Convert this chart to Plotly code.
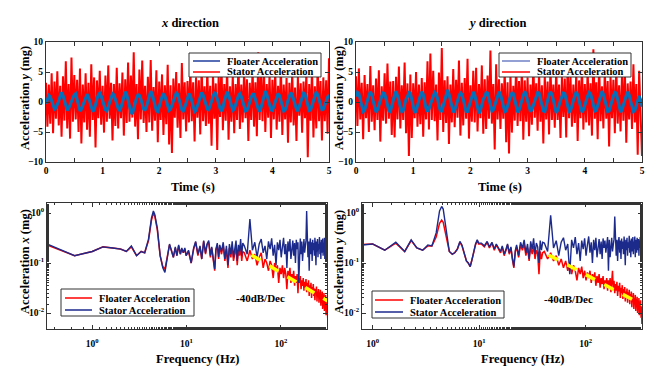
import numpy as np
import plotly.graph_objects as go

# ---------------- time-domain data (0 .. 5 s, 201 samples) ----------------
SAMPLE_DT = 0.025
N_SAMPLES = 201

stator_acc_x = [
    3.2, -4.1, 2.9, -3.6, 4.8, -5.2, 3.4, -2.8, 5.1, -3.9, 2.7, -5.8, 4.3, -3.1, 6.8, -4.4, 3.0, -6.1, 7.4, -3.3,
    4.5, -2.9, 3.7, -5.0, 5.6, -6.9, 2.9, -3.4, 4.8, -4.6, 3.2, -5.8, 6.3, -3.0, 4.1, -7.6, 3.6, -2.7, 5.2, -3.8,
    2.7, -5.1, 4.4, -3.3, 6.1, -2.8, 3.2, -6.4, 3.0, -4.0, 5.7, -4.4, 3.1, -2.7, 4.9, -5.6, 3.8, -3.5, 6.6, -3.3,
    4.4, -2.6, 8.3, -4.1, 3.0, -6.2, 5.4, -2.9, 6.9, -3.5, 2.7, -5.0, 4.2, -3.4, 7.0, -4.8, 2.5, -3.1, 5.3, -6.7,
    3.4, -3.0, 4.6, -5.5, 2.8, -3.7, 6.2, -7.1, 2.8, -8.5, 3.9, -2.6, 5.0, -4.3, 3.1, -6.0, 6.5, -2.9, 3.3, -4.9,
    3.5, -3.4, 5.8, -3.2, 3.3, -6.6, 4.1, -2.6, 3.6, -5.4, 6.0, -3.2, 2.6, -4.0, 5.5, -3.6, 2.7, -7.3, 4.7, -2.8,
    3.1, -8.0, 4.3, -2.5, 6.4, -4.7, 3.0, -3.1, 5.9, -6.3, 2.6, -3.3, 4.5, -5.2, 3.0, -3.0, 6.7, -4.5, 2.9, -3.4,
    5.1, -2.7, 3.8, -6.5, 3.2, -3.0, 5.6, -4.1, 3.3, -5.7, 8.3, -3.0, 4.4, -3.2, 6.0, -5.0, 3.0, -2.6, 4.8, -6.0,
    3.7, -2.9, 5.3, -4.6, 2.7, -3.3, 6.2, -5.5, 2.9, -2.9, 4.0, -6.8, 3.2, -3.4, 5.0, -3.9, 2.4, -6.5, 4.2, -2.3,
    3.1, -5.1, 3.4, -2.7, 4.9, -9.2, 3.0, -3.1, 5.6, -5.9, 2.6, -4.4, 6.1, -3.2, 3.5, -6.4, 4.1, -3.2, 3.6, -5.3,
    7.3,
]

floater_acc_x = [
    -0.3, 0.6, 1.1, 0.9, 0.2, -0.6, -1.2, -1.0, -0.5,
    0.2, 1.0, 1.6, 1.1, 0.3, -0.5, -1.4, -1.1, -0.4,
    0.1, 0.7, 1.2, 1.4, 0.4, -0.7, -1.5, -1.2, -0.6,
    0.3, 0.9, 1.3, 0.8, 0.0, -0.8, -1.6, -1.3, -0.2,
    0.5, 1.2, 1.5, 1.0, 0.1, -0.6, -1.3, -1.5, -0.7,
    0.0, 0.8, 1.4, 1.2, 0.6, -0.3, -1.1, -1.4, -0.9,
    -0.1, 0.9, 1.7, 1.3, 0.4, -0.5, -1.7, -2.0, -1.0,
    0.2, 0.7, 1.2, 1.1, 0.5, -0.4, -1.2, -1.3, -0.8,
    0.1, 1.1, 1.8, 1.4, 0.3, -0.6, -1.5, -1.6, -0.7,
    0.3, 0.9, 1.3, 1.0, 0.2, -0.7, -1.4, -1.2, -0.5,
    0.2, 1.0, 1.5, 1.3, 0.6, -0.4, -1.3, -1.5, -0.9,
    0.0, 0.8, 1.4, 1.1, 0.2, -0.6, -1.6, -1.4, -0.6,
    0.3, 1.2, 1.6, 1.2, 0.4, -0.5, -1.2, -1.3, -0.7,
    0.1, 0.9, 1.5, 1.4, 0.5, -0.3, -1.1, -1.5, -1.0,
    0.2, 1.0, 1.7, 1.2, 0.3, -0.6, -1.4, -1.2, -0.5,
    0.4, 1.1, 1.4, 0.9, 0.1, -0.7, -1.5, -1.4, -0.8,
    0.0, 0.8, 1.3, 1.3, 0.6, -0.4, -1.2, -1.6, -0.9,
    0.2, 1.2, 1.8, 1.3, 0.4, -0.5, -1.3, -1.4, -0.6,
    0.1, 0.9, 1.4, 1.1, 0.2, -0.6, -1.5, -1.3, -0.7,
    0.3, 1.0, 1.6, 1.2, 0.5, -0.4, -1.2, -1.5, -0.8,
    0.0, 0.9, 1.5, 1.3, 0.3, -0.5, -1.4, -1.3, -0.6,
    0.2, 1.1, 1.7, 1.2, 0.4, -0.6, -1.3, -1.2, -0.5,
    0.3, 0.8, 1.2,
]

stator_acc_y = [
    4.3, -4.0, 5.6, -2.9, 3.2, -6.2, 4.5, -2.7, 3.0, -5.0, 6.0, -3.3, 2.8, -4.7, 3.9, -3.0, 5.3, -6.6, 2.6, -3.1,
    4.8, -3.6, 6.4, -2.8, 3.4, -5.5, 3.5, -5.9, 4.2, -2.9, 5.9, -4.4, 2.8, -3.0, 6.6, -5.2, 3.1, -9.0, 4.6, -6.0,
    3.1, -2.7, 5.0, -4.1, 2.9, -3.7, 4.0, -5.8, 3.3, -2.9, 6.8, -4.6, 8.1, -3.0, 5.2, -3.2, 2.9, -6.4, 4.9, -3.0,
    9.0, -5.0, 3.6, -3.5, 4.3, -7.0, 2.9, -3.4, 5.5, -4.2, 3.7, -2.6, 6.9, -5.6, 3.2, -3.9, 4.0, -2.8, 7.2, -6.1,
    2.8, -3.3, 5.2, -3.4, 5.7, -4.9, 3.0, -2.7, 6.1, -5.3, 3.8, -4.5, 4.4, -2.8, 8.6, -3.6, 3.0, -7.9, 6.3, -2.9,
    3.8, -4.5, 3.1, -2.8, 5.4, -6.7, 3.3, -8.6, 4.7, -5.1, 2.7, -3.1, 6.5, -4.0, 3.5, -3.2, 5.8, -6.3, 3.6, -3.3,
    4.1, -5.7, 2.9, -3.8, 6.7, -2.6, 3.1, -4.8, 5.1, -3.3, 2.8, -6.9, 4.5, -2.9, 3.4, -5.4, 6.0, -3.0, 2.9, -4.3,
    5.6, -3.0, 2.9, -6.0, 4.2, -2.5, 3.9, -5.9, 6.4, -2.7, 4.4, -4.1, 2.9, -3.5, 5.0, -6.5, 3.6, -2.7, 6.2, -4.6,
    3.0, -3.4, 5.5, -3.9, 3.1, -5.6, 8.8, -2.8, 3.3, -6.2, 6.6, -3.2, 2.6, -4.4, 5.3, -2.8, 3.5, -7.4, 4.3, -2.7,
    3.7, -5.2, 6.1, -3.6, 2.8, -4.9, 4.6, -3.1, 5.7, -6.8, 3.1, -2.9, 3.4, -4.5, 6.3, -3.4, 3.0, -8.8, 5.2, -3.2,
    -9.0,
]

floater_acc_y = [
    0.9, 1.6, 1.4, 0.4, -0.8, -1.6, -1.4, -0.5, 0.3,
    1.1, 1.7, 1.3, 0.2, -1.0, -1.7, -1.3, -0.4, 0.4,
    1.0, 1.5, 1.4, 0.5, -0.7, -1.5, -1.6, -0.6, 0.2,
    1.2, 1.8, 1.2, 0.3, -0.9, -1.6, -1.4, -0.5, 0.5,
    0.9, 1.6, 1.5, 0.4, -0.8, -1.8, -1.5, -0.3, 0.3,
    1.1, 1.7, 1.3, 0.2, -1.1, -1.6, -1.2, -0.4, 0.4,
    1.0, 1.6, 1.4, 0.6, -0.7, -1.5, -1.5, -0.6, 0.2,
    1.3, 2.0, 1.4, 0.3, -0.9, -1.7, -1.4, -0.5, 0.4,
    1.0, 1.5, 1.3, 0.4, -0.8, -1.6, -1.6, -0.7, 0.3,
    1.1, 1.7, 1.2, 0.1, -1.0, -1.9, -1.4, -0.4, 0.5,
    0.9, 1.6, 1.5, 0.5, -0.7, -1.5, -1.3, -0.5, 0.3,
    1.2, 1.7, 1.3, 0.3, -0.9, -1.6, -1.5, -0.6, 0.2,
    1.0, 1.5, 1.4, 0.4, -0.8, -1.7, -1.4, -0.4, 0.4,
    1.1, 1.8, 1.2, 0.2, -1.0, -1.6, -1.3, -0.5, 0.3,
    1.0, 1.6, 1.5, 0.5, -0.7, -1.5, -1.6, -0.6, 0.4,
    1.2, 1.7, 1.3, 0.3, -0.9, -1.8, -1.4, -0.3, 0.3,
    0.9, 1.5, 1.4, 0.4, -0.8, -1.6, -1.5, -0.5, 0.2,
    1.1, 1.7, 1.2, 0.2, -1.0, -1.7, -1.3, -0.4, 0.5,
    1.0, 1.6, 1.4, 0.5, -0.7, -1.5, -1.4, -0.6, 0.3,
    1.2, 1.8, 1.3, 0.3, -0.9, -1.6, -1.5, -0.5, 0.4,
    1.0, 1.6, 1.5, 0.4, -0.8, -1.7, -1.3, -0.4, 0.3,
    1.1, 1.7, 1.2, 0.2, -1.0, -1.6, -1.4, -0.5, 0.4,
    1.0, 0.4, -0.8,
]

# ---------------- spectra ----------------
freq_hz = [
    0.33, 0.65, 1.0, 1.3, 1.65, 2.0, 2.3, 2.6, 2.95, 3.3, 3.6, 3.95, 4.25, 4.45, 4.6, 4.9, 5.25, 5.6, 5.9, 6.25,
    6.6, 6.9, 7.25, 7.6, 7.9, 8.25, 8.6, 8.9, 9.25, 9.6, 9.9,
    10.5, 11.2, 11.9, 12.5, 13.2, 13.9, 14.5, 15.2, 15.9, 16.5, 17.2, 17.9, 18.5, 19.2, 19.9, 20.5, 21.2, 21.9,
    22.5, 23.5, 24.5, 25.5, 26.5, 27.5, 28.5, 29.5, 30.5, 31.5, 32.5, 33.5, 34.5, 35.5, 36.5, 37.5, 38.5, 39.5,
    41, 44, 47, 50, 53, 56, 59, 62, 65, 68, 71, 74, 77, 80, 83, 86, 89, 92, 95, 98,
    101, 104, 107, 110, 113, 116, 119, 122, 125, 128, 131, 134, 137, 140, 143, 146, 149, 152, 155, 158,
    161, 164, 167, 170, 173, 176, 179, 182, 185, 188, 191, 194, 197, 200, 203, 206, 209, 212, 215, 218,
    221, 224, 227, 230, 233, 236, 239, 242, 245, 248, 251, 254, 257, 260, 263, 266, 269, 272, 275, 278,
    281, 284, 287, 290, 293, 296, 299, 302, 305, 308, 311, 314, 317, 320, 323, 326, 329, 332, 335, 338,
]

floater_spec_x = [
    0.23, 0.14, 0.17, 0.21, 0.20, 0.19, 0.17, 0.21, 0.14, 0.17, 0.16, 0.28, 0.72, 0.97, 0.88, 0.46, 0.14, 0.085, 0.075, 0.14,
    0.23, 0.18, 0.13, 0.20, 0.14, 0.22, 0.15, 0.19, 0.16, 0.19, 0.14,
    0.17, 0.10, 0.19, 0.26, 0.14, 0.21, 0.12, 0.27, 0.15, 0.23, 0.26, 0.13, 0.20, 0.10, 0.07, 0.18, 0.23, 0.12,
    0.21, 0.15, 0.23, 0.11, 0.19, 0.08, 0.20, 0.13, 0.22, 0.11, 0.17, 0.21, 0.09, 0.18, 0.14, 0.22, 0.11, 0.17,
    0.16, 0.11, 0.18, 0.12, 0.15, 0.09, 0.13, 0.16, 0.08, 0.12, 0.10, 0.07, 0.11, 0.09, 0.05, 0.10, 0.07, 0.09, 0.04, 0.08,
    0.06, 0.09, 0.05, 0.08, 0.06, 0.03, 0.07, 0.05, 0.08, 0.04, 0.06, 0.045, 0.07, 0.035, 0.055, 0.04, 0.06, 0.025, 0.05, 0.04,
    0.055, 0.03, 0.045, 0.035, 0.05, 0.028, 0.042, 0.033, 0.048, 0.026, 0.04, 0.03, 0.045, 0.022, 0.036, 0.028, 0.04, 0.02, 0.033, 0.026,
    0.038, 0.022, 0.031, 0.018, 0.03, 0.024, 0.034, 0.017, 0.027, 0.021, 0.03, 0.016, 0.026, 0.02, 0.029, 0.014, 0.024, 0.019, 0.027, 0.012,
    0.022, 0.017, 0.025, 0.011, 0.02, 0.015, 0.023, 0.009, 0.018, 0.013, 0.02, 0.008, 0.016, 0.012, 0.019, 0.01, 0.015, 0.011, 0.017, 0.009,
]

stator_spec_x = [
    0.24, 0.14, 0.17, 0.21, 0.20, 0.19, 0.17, 0.22, 0.14, 0.17, 0.16, 0.30, 0.80, 1.10, 0.95, 0.50, 0.14, 0.08, 0.065, 0.14,
    0.24, 0.18, 0.13, 0.21, 0.14, 0.23, 0.15, 0.20, 0.16, 0.20, 0.14,
    0.18, 0.10, 0.20, 0.27, 0.15, 0.22, 0.12, 0.28, 0.16, 0.24, 0.28, 0.14, 0.21, 0.11, 0.075, 0.19, 0.25, 0.13,
    0.23, 0.17, 0.26, 0.12, 0.22, 0.09, 0.24, 0.15, 0.27, 0.13, 0.20, 0.28, 0.11, 0.23, 0.17, 0.30, 0.14, 0.25,
    0.22, 0.15, 0.76, 0.18, 0.26, 0.13, 0.24, 0.30, 0.16, 0.22, 0.12, 0.27, 0.19, 0.31, 0.14, 0.23, 0.09, 0.26, 0.18, 0.29,
    0.13, 0.21, 0.32, 0.15, 0.24, 0.08, 0.27, 0.17, 0.30, 0.12, 0.22, 0.28, 0.14, 0.25, 0.10, 0.29, 0.19, 0.26, 0.04, 0.23,
    0.31, 0.15, 0.27, 0.11, 0.24, 0.30, 0.16, 0.22, 0.28, 1.10, 0.20, 0.13, 0.27, 0.07, 0.24, 0.31, 0.15, 0.26, 0.11, 0.29,
    0.18, 0.25, 0.14, 0.32, 0.20, 0.09, 0.27, 0.17, 0.30, 0.13, 0.24, 0.19, 0.33, 0.15, 0.26, 0.12, 0.29, 0.21, 0.16, 0.31,
    0.14, 0.25, 0.18, 0.32, 0.12, 0.27, 0.20, 0.15, 0.30, 0.22, 0.17, 0.28, 0.13, 0.26, 0.19, 0.31, 0.15, 0.24, 0.18, 0.27,
]

floater_spec_y = [
    0.23, 0.23, 0.24, 0.18, 0.25, 0.17, 0.28, 0.20, 0.18, 0.22, 0.22, 0.33, 0.62, 0.72, 0.65, 0.36, 0.17, 0.15, 0.16, 0.19,
    0.26, 0.22, 0.16, 0.11, 0.10, 0.085, 0.12, 0.17, 0.23, 0.28, 0.24,
    0.24, 0.21, 0.26, 0.20, 0.25, 0.18, 0.23, 0.19, 0.16, 0.21, 0.14, 0.18, 0.23, 0.15, 0.20, 0.12, 0.08, 0.17,
    0.21, 0.13, 0.23, 0.18, 0.24, 0.14, 0.20, 0.11, 0.21, 0.15, 0.22, 0.12, 0.18, 0.15, 0.06, 0.17, 0.12, 0.16,
    0.17, 0.12, 0.16, 0.11, 0.14, 0.09, 0.12, 0.08, 0.11, 0.07, 0.10, 0.06, 0.09, 0.07, 0.045, 0.08, 0.06, 0.085, 0.05, 0.07,
    0.045, 0.065, 0.05, 0.07, 0.04, 0.06, 0.045, 0.065, 0.035, 0.055, 0.04, 0.06, 0.032, 0.05, 0.038, 0.055, 0.03, 0.045, 0.035, 0.05,
    0.028, 0.045, 0.033, 0.05, 0.026, 0.042, 0.07, 0.03, 0.044, 0.025, 0.038, 0.028, 0.042, 0.022, 0.035, 0.027, 0.04, 0.02, 0.032, 0.025,
    0.036, 0.019, 0.03, 0.023, 0.033, 0.017, 0.027, 0.021, 0.031, 0.016, 0.026, 0.02, 0.029, 0.015, 0.024, 0.018, 0.027, 0.013, 0.022, 0.017,
    0.025, 0.012, 0.02, 0.015, 0.023, 0.011, 0.019, 0.014, 0.021, 0.01, 0.017, 0.013, 0.02, 0.009, 0.016, 0.012, 0.018, 0.008, 0.014, 0.006,
]

stator_spec_y = [
    0.22, 0.22, 0.24, 0.18, 0.26, 0.17, 0.29, 0.20, 0.18, 0.23, 0.22, 0.40, 1.10, 1.35, 1.20, 0.45, 0.17, 0.15, 0.16, 0.19,
    0.27, 0.23, 0.16, 0.11, 0.10, 0.085, 0.12, 0.17, 0.24, 0.29, 0.25,
    0.25, 0.22, 0.27, 0.21, 0.26, 0.19, 0.24, 0.20, 0.17, 0.22, 0.15, 0.19, 0.24, 0.16, 0.21, 0.13, 0.085, 0.18,
    0.23, 0.14, 0.26, 0.20, 0.29, 0.16, 0.24, 0.12, 0.27, 0.19, 0.31, 0.15, 0.25, 0.21, 0.10, 0.28, 0.18, 0.26,
    0.25, 0.17, 0.90, 0.20, 0.28, 0.14, 0.26, 0.32, 0.18, 0.24, 0.06, 0.29, 0.20, 0.33, 0.15, 0.25, 0.11, 0.28, 0.19, 0.31,
    0.14, 0.23, 0.34, 0.16, 0.26, 0.10, 0.29, 0.18, 0.32, 0.13, 0.24, 0.30, 0.15, 0.27, 0.12, 0.31, 0.20, 0.28, 0.16, 0.25,
    0.33, 0.07, 0.29, 0.13, 0.26, 0.32, 0.17, 0.24, 0.30, 0.85, 0.21, 0.14, 0.29, 0.11, 0.26, 0.33, 0.16, 0.28, 0.12, 0.31,
    0.19, 0.27, 0.15, 0.34, 0.21, 0.09, 0.29, 0.18, 0.32, 0.14, 0.26, 0.20, 0.35, 0.16, 0.28, 0.13, 0.31, 0.22, 0.17, 0.33,
    0.15, 0.27, 0.19, 0.34, 0.13, 0.29, 0.21, 0.16, 0.32, 0.23, 0.18, 0.30, 0.14, 0.28, 0.20, 0.33, 0.16, 0.26, 0.12, 0.22,
]

# -40 dB/Dec guide lines (end points)
slope_x_freq = [48.8, 314]
slope_x_amp = [0.145, 0.0174]
slope_y_freq = [45, 368]
slope_y_amp = [0.145, 0.0134]

time_s = np.arange(N_SAMPLES) * SAMPLE_DT

W, H = 664, 382
SERIF = "Liberation Serif, Times New Roman, serif"
RED = "#ff0000"
LIGHT_BLUE = "#0072bd"
NAVY = "#1c2a8c"
FRAME = "#333333"


def px(x):
    return x / W


def py(y):
    return 1 - y / H


fig = go.Figure()

# top row: time histories (red underneath, blue on top)
for xa, ya, stator, floater in [("x", "y", stator_acc_x, floater_acc_x),
                                ("x2", "y2", stator_acc_y, floater_acc_y)]:
    fig.add_trace(go.Scatter(x=time_s, y=stator, mode="lines", name="Stator Acceleration",
                             line=dict(color=RED, width=2), xaxis=xa, yaxis=ya))
    fig.add_trace(go.Scatter(x=time_s, y=floater, mode="lines", name="Floater Acceleration",
                             line=dict(color=LIGHT_BLUE, width=3), xaxis=xa, yaxis=ya))

# bottom row: spectra
for xa, ya, fl, st, sf, sa in [("x3", "y3", floater_spec_x, stator_spec_x, slope_x_freq, slope_x_amp),
                               ("x4", "y4", floater_spec_y, stator_spec_y, slope_y_freq, slope_y_amp)]:
    fig.add_trace(go.Scatter(x=freq_hz, y=fl, mode="lines", name="Floater Acceleration",
                             line=dict(color=RED, width=1.5), xaxis=xa, yaxis=ya))
    fig.add_trace(go.Scatter(x=freq_hz, y=st, mode="lines", name="Stator Acceleration",
                             line=dict(color=NAVY, width=1.4), xaxis=xa, yaxis=ya))
    fig.add_trace(go.Scatter(x=sf, y=sa, mode="lines",
                             line=dict(color="#ffff00", width=3.5, dash="dash"), xaxis=xa, yaxis=ya))

tick_font = dict(family=SERIF, size=9.5, color="black", weight="bold")
frame = dict(showline=True, linecolor=FRAME, linewidth=1, mirror="ticks", ticks="inside",
             ticklen=4, tickcolor=FRAME, showgrid=False, zeroline=False, tickfont=tick_font,
             automargin=False)

lin_x = dict(frame, range=[0, 5], dtick=1,
             minor=dict(dtick=0.5, ticks="inside", ticklen=4, tickcolor=FRAME))
lin_y = dict(frame, range=[-10, 10], dtick=5)
log_x_ticks = dict(tickvals=[1, 10, 100], ticktext=["10<sup>0</sup>", "10<sup>1</sup>", "10<sup>2</sup>"],
                   ticklabelstandoff=6)
log_y_ticks = dict(tickvals=[0.01, 0.1, 1], ticktext=["10<sup>-2</sup>", "10<sup>-1</sup>", "10<sup>0</sup>"])
log_minor = dict(ticks="inside", ticklen=2, tickcolor=FRAME)

fig.update_layout(
    width=W, height=H,
    margin=dict(l=0, r=0, t=0, b=0),
    paper_bgcolor="white", plot_bgcolor="white",
    font=dict(family=SERIF, color="black"),
    showlegend=False,
    xaxis=dict(lin_x, domain=[px(46), px(329)], anchor="y"),
    yaxis=dict(lin_y, domain=[py(162), py(42)], anchor="x"),
    xaxis2=dict(lin_x, domain=[px(356), px(642)], anchor="y2"),
    yaxis2=dict(lin_y, domain=[py(162), py(42)], anchor="x2"),
    xaxis3=dict(frame, type="log", range=[-0.48, 2.49], domain=[px(47), px(327)], anchor="y3",
                minor=log_minor, **log_x_ticks),
    yaxis3=dict(frame, type="log", range=[-2.32, 0.2], domain=[py(329), py(203)], anchor="x3",
                minor=log_minor, **log_y_ticks),
    xaxis4=dict(frame, type="log", range=[-0.10, 2.53], domain=[px(362), px(642)], anchor="y4",
                minor=log_minor, **log_x_ticks),
    yaxis4=dict(frame, type="log", range=[-2.32, 0.2], domain=[py(329), py(203)], anchor="x4",
                minor=log_minor, **log_y_ticks),
)

# hand-drawn legends (MATLAB style: compact boxes)
legends = [
    # box left, top, right, bottom, line x0, x1, text x, row y's, entries
    (189, 53, 321, 77, 193, 220, 225, (61, 72),
     [("Floater Acceleration", "#1f3c9c"), ("Stator Acceleration", RED)]),
    (499, 53, 631, 77, 502, 530, 535, (61, 72),
     [("Floater Acceleration", "#6f80c4"), ("Stator Acceleration", RED)]),
    (61, 289, 194, 316, 65, 92, 97, (298, 310),
     [("Floater Acceleration", RED), ("Stator Acceleration", NAVY)]),
    (372, 291, 504, 318, 375, 403, 408, (300, 312),
     [("Floater Acceleration", RED), ("Stator Acceleration", NAVY)]),
]
shapes = []
annotations = []
for x0, y0, x1, y1, lx0, lx1, tx, rows, entries in legends:
    shapes.append(dict(type="rect", xref="paper", yref="paper", x0=px(x0), x1=px(x1), y0=py(y1), y1=py(y0),
                       line=dict(color=FRAME, width=1), fillcolor="white", layer="above"))
    for ry, (label, color) in zip(rows, entries):
        shapes.append(dict(type="line", xref="paper", yref="paper", x0=px(lx0), x1=px(lx1), y0=py(ry), y1=py(ry),
                           line=dict(color=color, width=1.5), layer="above"))
        annotations.append(dict(text=label, x=px(tx), y=py(ry), xanchor="left", yanchor="middle",
                                font=dict(family=SERIF, size=10.5, color="black", weight="bold")))

label_font = dict(family=SERIF, size=12.5, color="black", weight="bold")
for text, x, y, angle in [
    ("<i>x</i> direction", 190, 23, 0),
    ("<i>y</i> direction", 497, 23, 0),
    ("Time (s)", 193, 187, 0),
    ("Time (s)", 500, 187, 0),
    ("Frequency (Hz)", 197, 359, 0),
    ("Frequency (Hz)", 522, 359, 0),
    ("Acceleration <i>y</i> (mg)", 25, 98, -90),
    ("Acceleration <i>y</i> (mg)", 339, 98, -90),
    ("Acceleration <i>x</i> (mg)", 25, 262, -90),
    ("Acceleration <i>y</i> (mg)", 339, 262, -90),
]:
    annotations.append(dict(text=text, x=px(x), y=py(y), textangle=angle, font=label_font,
                            xanchor="center", yanchor="middle"))

for a in annotations:
    a.update(xref="paper", yref="paper", showarrow=False)

# slope labels sit in data space of the log axes (log10 units)
slope_font = dict(family=SERIF, size=11, color="black", weight="bold")
annotations.append(dict(text="-40dB/Dec", x=1.50, y=-1.70, xref="x3", yref="y3", showarrow=False,
                        xanchor="left", yanchor="middle", font=slope_font))
annotations.append(dict(text="-40dB/Dec", x=1.594, y=-1.72, xref="x4", yref="y4", showarrow=False,
                        xanchor="left", yanchor="middle", font=slope_font))
fig.update_layout(shapes=shapes, annotations=annotations)

fig.write_html("out.html", config={"displayModeBar": False},
               post_script="document.body.style.margin='0';")
